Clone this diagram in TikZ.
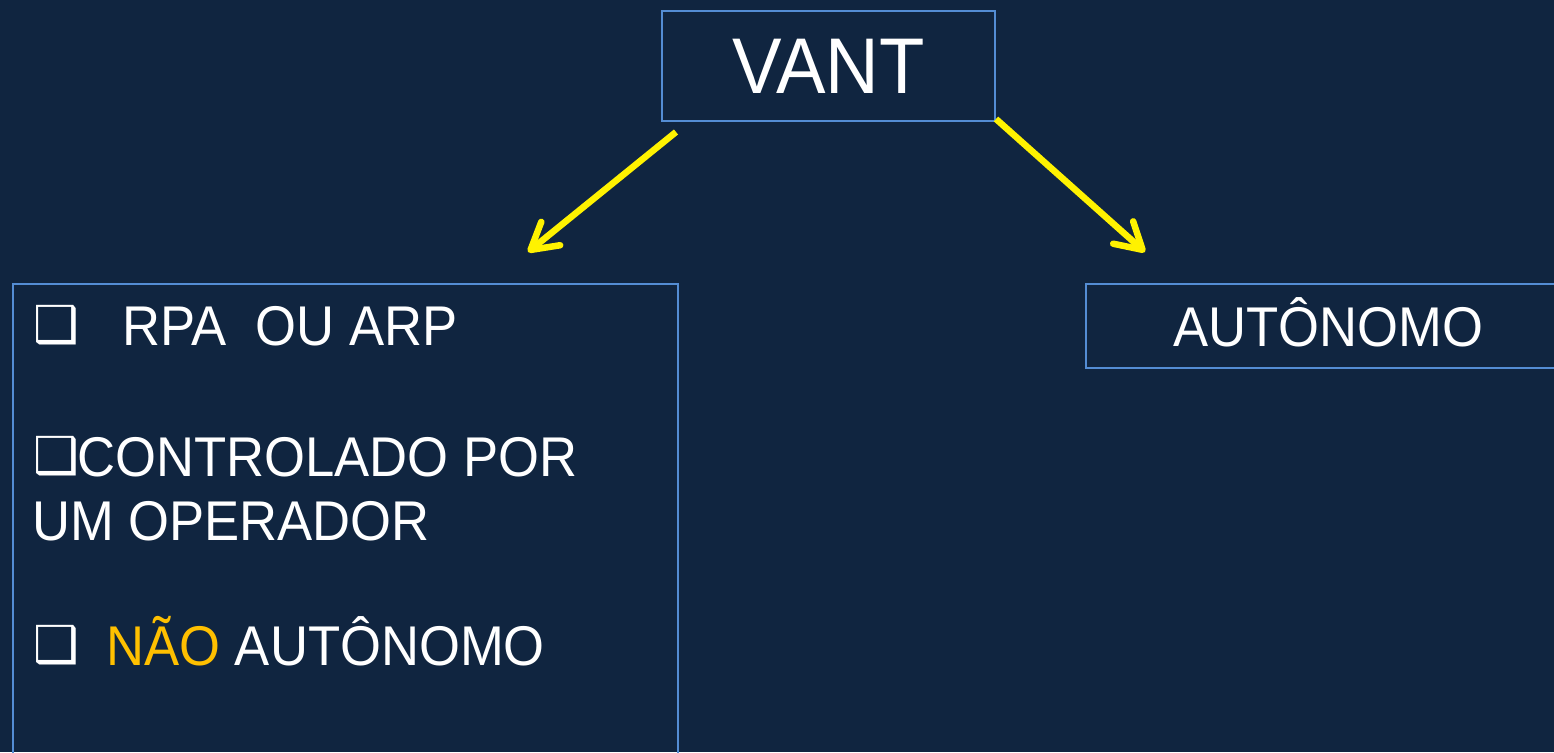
\documentclass[tikz,border=0pt]{standalone}
\usepackage{fontspec}
\setmainfont{Liberation Sans}[FakeStretch=0.94]
\newfontfamily\bulfont{DejaVu Sans}
\usetikzlibrary{arrows.meta}
\definecolor{bgnavy}{RGB}{16,37,64}
\definecolor{edgeblue}{RGB}{84,141,212}
\definecolor{hiorange}{RGB}{255,192,0}
\newcommand{\sqbul}[1]{\makebox[#1][l]{\raisebox{3pt}{\bulfont\fontsize{51}{60}\selectfont ❑}}}
\tikzset{
  box/.style={draw=edgeblue, line width=2pt, inner sep=0pt, text=white},
  txt/.style={inner sep=0pt, anchor=base west, text=white, font=\fontsize{56}{67}\selectfont},
  arr/.style={draw=yellow, line width=6.5pt, -{Straight Barb[length=26pt,width=30pt,round]}}
}
\begin{document}
\begin{tikzpicture}[x=1pt,y=-1pt]
\useasboundingbox (0,0) rectangle (1554,752);
\fill[bgnavy] (0,0) rectangle (1554,752);
\clip (0,0) rectangle (1554,752);
% top box
\node[box, minimum width=333pt, minimum height=110pt, font=\fontsize{79}{90}\selectfont] (vant) at (828.5,66) {VANT};
% lower boxes
\node[box, anchor=north west, minimum width=665pt, minimum height=520pt] (rpa) at (12,283) {};
\node[box, anchor=north west, minimum width=484pt, minimum height=84pt, text height=40pt, text depth=0pt, font=\fontsize{56}{67}\selectfont] (aut) at (1085,283) {AUTÔNOMO};
% list inside the left box
\node[txt] (l1) at (33,345) {\sqbul{89pt}RPA~~OU ARP};
\node[txt] (l2) at (33,476) {\sqbul{44pt}CONTROLADO POR};
\node[txt] (l3) at (32,540) {UM OPERADOR};
\node[txt] (l4) at (33,665) {\sqbul{73pt}\textcolor{hiorange}{NÃO} AUTÔNOMO};
% connectors
\coordinate (s1) at ([shift={(15,10)}]vant.south west);
\coordinate (e1) at ([shift={(516,-31)}]rpa.north west);
\coordinate (s2) at ([shift={(0,-3)}]vant.south east);
\coordinate (e2) at ([shift={(60,-31)}]aut.north west);
\draw[arr] (s1) -- (e1);
\draw[arr] (s2) -- (e2);
\end{tikzpicture}
\end{document}
